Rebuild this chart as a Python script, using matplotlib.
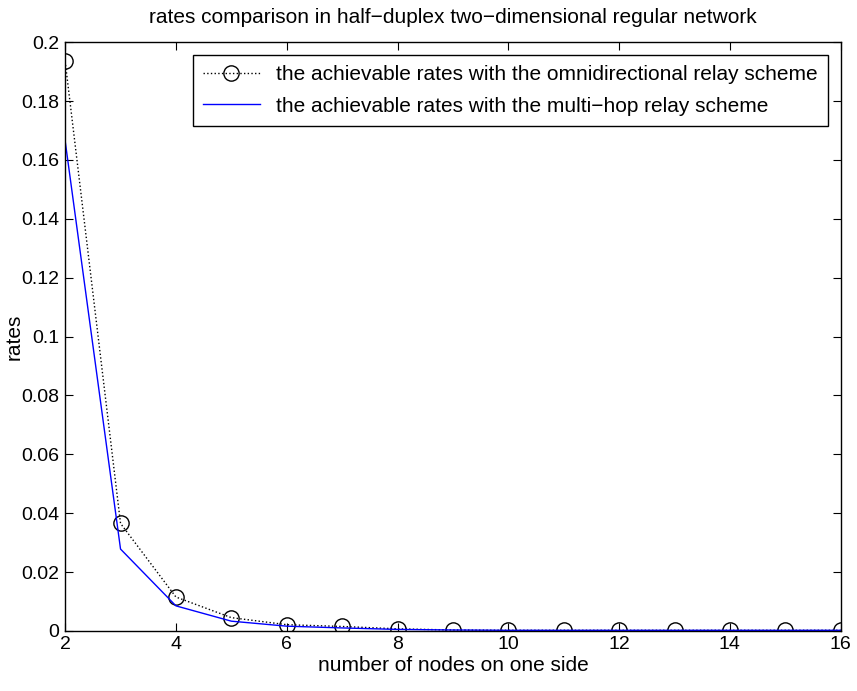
import numpy as np
import matplotlib
matplotlib.use('Agg')
import matplotlib.pyplot as plt

# number of nodes on one side
nodes = np.arange(2, 17)
# omnidirectional relay scheme
omni_rates = [0.1935, 0.0365, 0.0115, 0.0045, 0.0021, 0.0015, 0.0007, 0.0003,
              0.0002, 0.0002, 0.0002, 0.0002, 0.0002, 0.0002, 0.0002]
# multi-hop relay scheme
multihop_rates = [0.1665, 0.0278, 0.0085, 0.0033, 0.0016, 0.0010, 0.0005, 0.0003,
                  0.0002, 0.0002, 0.0002, 0.0002, 0.0002, 0.0002, 0.0002]

plt.rcParams['font.family'] = ['Liberation Sans', 'DejaVu Sans']
fs = 15

fig = plt.figure(figsize=(8.57, 6.91), dpi=100)
ax = fig.add_axes([0.076, 0.087, 0.905, 0.852])

ax.plot(nodes, omni_rates, color='black', linestyle=':', linewidth=1,
        marker='o', markersize=11, markerfacecolor='none', markeredgewidth=1,
        label='the achievable rates with the omnidirectional relay scheme')
ax.plot(nodes, multihop_rates, color='blue', linewidth=1,
        label='the achievable rates with the multi\u2212hop relay scheme')

ax.set_xlim(2, 16)
ax.set_ylim(0, 0.2)
ax.set_xticks(np.arange(2, 17, 2))
ax.set_yticks(np.arange(0, 0.201, 0.02))
ax.set_yticklabels(['0', '0.02', '0.04', '0.06', '0.08', '0.1', '0.12',
                    '0.14', '0.16', '0.18', '0.2'])
ax.tick_params(direction='in', top=True, right=True, length=6, labelsize=14, pad=4)
for s in ax.spines.values():
    s.set_linewidth(1)

ax.set_xlabel('number of nodes on one side', fontsize=fs, labelpad=2)
ax.set_ylabel('rates', fontsize=fs)
ax.yaxis.set_label_coords(-0.054, 0.5)
ax.set_title('rates comparison in half\u2212duplex two\u2212dimensional regular network',
             fontsize=fs, pad=14)

leg = ax.legend(loc='upper right', fontsize=fs, fancybox=False, framealpha=1,
                edgecolor='black', borderaxespad=0.6, handlelength=2.7,
                labelspacing=0.6, borderpad=0.5)
leg.get_frame().set_linewidth(1)

fig.savefig('out.png', dpi=100)
